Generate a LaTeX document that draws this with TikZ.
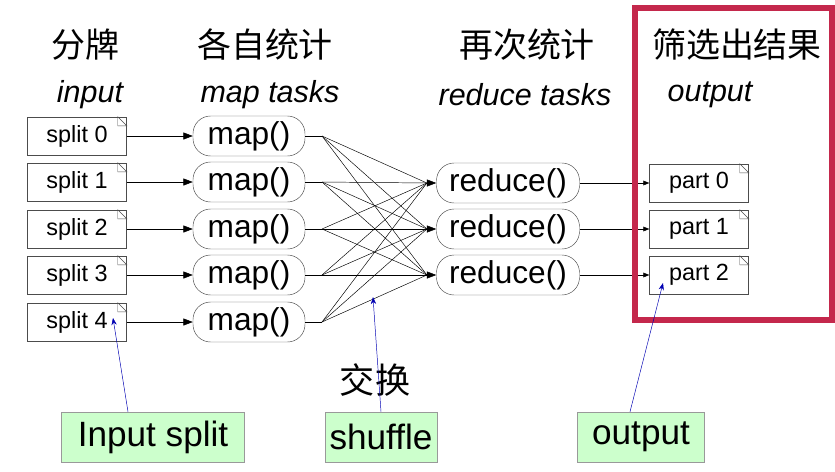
\documentclass[tikz,border=0pt]{standalone}
\usepackage{fontspec}
\setmainfont{Liberation Sans}
\newfontfamily\cjk{Noto Sans CJK SC}
\usetikzlibrary{arrows.meta}
\definecolor{frame}{RGB}{196,40,76}

\begin{document}
\begin{tikzpicture}[
    x=0.03cm, y=-0.03cm,
    >={Triangle[length=8pt,width=6pt]},
    % file-like boxes with folded corner
    doc/.style={draw=black!70, minimum width=99*0.03cm, minimum height=38*0.03cm,
        inner sep=0pt, font=\fontsize{20}{24}\selectfont},
    task/.style={draw=black!70, rounded corners=15pt, minimum height=40*0.03cm,
        inner sep=0pt, font=\fontsize{27}{32}\selectfont},
    head/.style={font=\cjk\fontsize{29}{34}\selectfont},
    sub/.style={font=\itshape\fontsize{26}{30}\selectfont},
    note/.style={draw=black!40, fill=green!20, minimum height=50*0.03cm,
        inner sep=0pt, font=\fontsize{30}{34}\selectfont},
    pointer/.style={->, blue!70!black, >={Stealth[length=6pt]}}
]
\useasboundingbox (0,0) rectangle (835,471);

% --- Headers ---
\node[head] at (85,45) {分牌};
\node[head] at (265,45) {各自统计};
\node[head] at (527,45) {再次统计};
\node[head] at (737,45) {筛选出结果};
\node[sub] at (90,95) {input};
\node[sub] at (270,95) {map tasks};
\node[sub] at (525,95) {reduce tasks};
\node[sub] at (710,95) {output};

% --- Splits and maps ---
\foreach \i/\y in {0/136, 1/182, 2/229, 3/275, 4/322} {
    \node[doc] (s\i) at (77,\y) {split \i};
    \node[task, minimum width=112*0.03cm] (m\i) at (249,\y) {map()};
    \draw[->] (s\i) -- (m\i);
    \coordinate (f\i) at (322,\y);
    \draw (m\i) -- (f\i);
}

% --- Reduces and parts ---
\foreach \j/\y in {0/183, 1/229, 2/275} {
    \node[task, minimum width=143*0.03cm] (r\j) at (508,\y) {reduce()};
    \node[doc] (p\j) at (699,\y) {part \j};
    \draw[->, >={Triangle[length=5pt,width=4pt]}] (r\j) -- (p\j);
}

% folded corners
\foreach \n in {s0,s1,s2,s3,s4,p0,p1,p2} {
    \draw[black!70] ([xshift=-9*0.03cm]\n.north east) -- ([yshift=-9*0.03cm]\n.north east)
        -- ([xshift=-9*0.03cm,yshift=-9*0.03cm]\n.north east) -- cycle;
}

% --- Shuffle ---
\foreach \i in {0,...,4} {
    \foreach \j in {0,1,2} {
        \draw (f\i) -- ([xshift=-8pt]r\j.west);
    }
}
\foreach \j in {0,1,2} {
    \draw[->] ([xshift=-8pt]r\j.west) -- (r\j.west);
}

% --- Output frame ---
\draw[line width=5pt, frame] (635,8) rectangle (832,320);

\node[font=\cjk\fontsize{30}{34}\selectfont] at (375,380) {交换};

% --- Notes ---
\node[note, minimum width=183*0.03cm] (n1) at (153,437) {Input split};
\node[note, minimum width=112*0.03cm] (n2) at (381,437) {shuffle};
\node[note, minimum width=127*0.03cm] (n3) at (641,437) {output};
\coordinate (t1) at (113,318);
\coordinate (t2) at (373,297);
\coordinate (t3) at (663,283);
\draw[pointer] (n1.north) ++(-25,0) -- (t1);
\draw[pointer] (n2.north) -- (t2);
\draw[pointer] (n3.north) ++(-11,0) -- (t3);

\end{tikzpicture}
\end{document}
